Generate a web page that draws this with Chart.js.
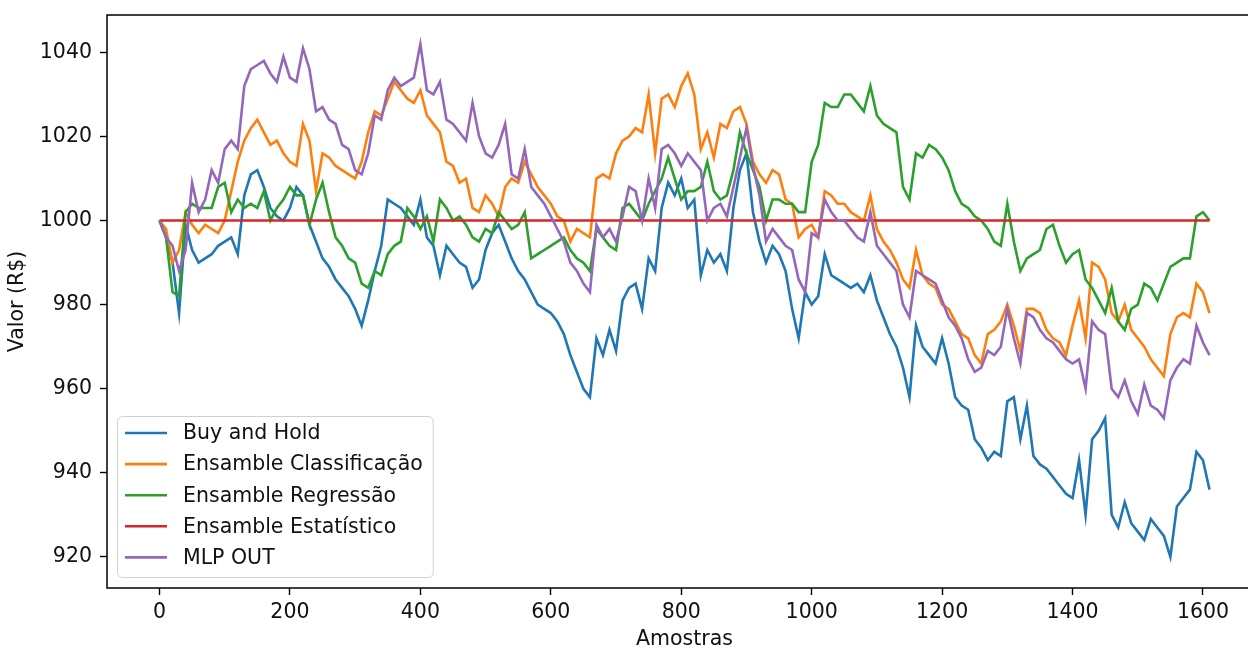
<!DOCTYPE html>
<html>
<head>
<meta charset="utf-8">
<script src="https://cdn.jsdelivr.net/npm/chart.js@4"></script>
<style>
  html, body { margin: 0; padding: 0; background: #fff; overflow: hidden; }
  #wrap { width: 1280px; height: 648px; }
</style>
</head>
<body>
<div id="wrap"><canvas id="valorChart" width="1280" height="648"></canvas></div>
<script>
// Portfolio value per sample, one reading every 10 samples (0 .. 1610)
const SAMPLE_STEP = 10;

const buyHold = [
  1000, 996, 990, 978, 999, 993, 990, 991, 992, 994,
  995, 996, 992, 1006, 1011, 1012, 1008, 1003, 1001, 1000,
  1003, 1008, 1006, 999, 995, 991, 989, 986, 984, 982,
  979, 975, 981, 988, 994, 1005, 1004, 1003, 1001, 999,
  1005, 996, 994, 987, 994, 992, 990, 989, 984, 986,
  993, 997, 999, 995, 991, 988, 986, 983, 980, 979,
  978, 976, 973, 968, 964, 960, 958, 972, 968, 974,
  969, 981, 984, 985, 979, 991, 988, 1003, 1009, 1006,
  1010, 1003, 1005, 987, 993, 990, 992, 988, 1003, 1012,
  1016, 1002, 995, 990, 994, 992, 988, 979, 972, 983,
  980, 982, 992, 987, 986, 985, 984, 985, 983, 987,
  981, 977, 973, 970, 965, 958, 975, 970, 968, 966,
  972, 966, 958, 956, 955, 948, 946, 943, 945, 944,
  957, 958, 948, 956, 944, 942, 941, 939, 937, 935,
  934, 943, 930, 948, 950, 953, 930, 927, 933, 928,
  926, 924, 929, 927, 925, 920, 932, 934, 936, 945,
  943, 936
];

const ensClassificacao = [
  1000, 998, 990, 993, 1002, 999, 997, 999, 998, 997,
  1000, 1007, 1014, 1019, 1022, 1024, 1021, 1018, 1019, 1016,
  1014, 1013, 1023, 1019, 1007, 1016, 1015, 1013, 1012, 1011,
  1010, 1014, 1021, 1026, 1025, 1029, 1033, 1031, 1029, 1028,
  1031, 1025, 1023, 1021, 1014, 1013, 1009, 1010, 1003, 1002,
  1006, 1004, 1001, 1008, 1010, 1009, 1014, 1011, 1008, 1006,
  1004, 1001, 1000, 995, 998, 997, 996, 1010, 1011, 1010,
  1016, 1019, 1020, 1022, 1021, 1030, 1016, 1029, 1030, 1027,
  1032, 1035, 1030, 1017, 1021, 1015, 1023, 1022, 1026, 1027,
  1023, 1014, 1011, 1009, 1012, 1011, 1005, 1004, 996, 998,
  999, 996, 1007, 1006, 1004, 1004, 1002, 1001, 1000, 1006,
  998, 995, 993, 990, 986, 984, 993, 987, 985, 984,
  980, 979, 976, 973, 972, 968, 966, 973, 974, 976,
  980, 975, 969, 979, 979, 978, 974, 972, 971, 968,
  975, 981, 972, 990, 989, 986, 978, 976, 980, 974,
  972, 970, 967, 965, 963, 973, 977, 978, 977, 985,
  983, 978
];

const ensRegressao = [
  1000, 996, 983, 982, 1002, 1004, 1003, 1003, 1003, 1008,
  1009, 1002, 1005, 1003, 1004, 1003, 1007, 1000, 1003, 1005,
  1008, 1006, 1006, 999, 1005, 1009, 1002, 996, 994, 991,
  990, 985, 984, 988, 987, 992, 994, 995, 1003, 1001,
  998, 1001, 995, 1005, 1003, 1000, 1001, 999, 996, 995,
  998, 997, 1002, 1000, 998, 999, 1002, 991, 992, 993,
  994, 995, 996, 993, 991, 990, 988, 998, 996, 994,
  993, 1003, 1004, 1002, 1000, 1004, 1007, 1010, 1015, 1010,
  1005, 1007, 1007, 1008, 1014, 1007, 1005, 1006, 1012, 1021,
  1016, 1012, 1008, 1000, 1005, 1005, 1004, 1004, 1002, 1002,
  1014, 1018, 1028, 1027, 1027, 1030, 1030, 1028, 1026, 1032,
  1025, 1023, 1022, 1021, 1008, 1005, 1016, 1015, 1018, 1017,
  1015, 1012, 1007, 1004, 1003, 1001, 1000, 998, 995, 994,
  1004, 995, 988, 991, 992, 993, 998, 999, 994, 990,
  992, 993, 986, 984, 981, 978, 984, 976, 974, 979,
  980, 985, 984, 981, 985, 989, 990, 991, 991, 1001,
  1002, 1000
];

const mlpOut = [
  1000, 996, 994, 988, 993, 1009, 1002, 1005, 1012, 1009,
  1017, 1019, 1017, 1032, 1036, 1037, 1038, 1035, 1033, 1039,
  1034, 1033, 1041, 1036, 1026, 1027, 1024, 1023, 1018, 1017,
  1012, 1011, 1016, 1025, 1024, 1031, 1034, 1032, 1033, 1034,
  1042, 1031, 1030, 1033, 1024, 1023, 1021, 1019, 1028, 1020,
  1016, 1015, 1018, 1023, 1011, 1010, 1017, 1008, 1006, 1004,
  1001, 998, 995, 990, 988, 985, 983, 999, 996, 998,
  995, 1001, 1008, 1007, 1000, 1010, 1003, 1017, 1018, 1016,
  1013, 1016, 1014, 1012, 1000, 1003, 1004, 1001, 1008, 1015,
  1022, 1013, 1006, 995, 998, 996, 994, 993, 986, 983,
  997, 996, 1005, 1002, 1000, 1000, 998, 996, 995, 1002,
  994, 992, 990, 988, 980, 977, 988, 987, 986, 985,
  981, 977, 975, 972, 967, 964, 965, 969, 968, 970,
  979, 972, 966, 978, 977, 974, 972, 971, 969, 967,
  966, 967, 960, 976, 974, 973, 960, 958, 962, 957,
  954, 961, 956, 955, 953, 962, 965, 967, 966, 975,
  971, 968
];

// the statistical ensemble never trades: flat from first to last sample
const ensEstatisticoSamples = [0, 1610];
const ensEstatistico = [1000, 1000];

const xTicks = [0, 200, 400, 600, 800, 1000, 1200, 1400, 1600];
const yTicks = [920, 940, 960, 980, 1000, 1020, 1040];

const seriesNames  = ['Buy and Hold', 'Ensamble Classificação', 'Ensamble Regressão', 'Ensamble Estatístico', 'MLP OUT'];
const seriesColors = ['#1f77b4', '#ff7f0e', '#2ca02c', '#d62728', '#9467bd'];

const FONT = "'DejaVu Sans', sans-serif";
const FONT_SIZE = 20.5;

const samples = buyHold.map((_, i) => i * SAMPLE_STEP);
const toPoints = (xs, ys) => ys.map((y, i) => ({ x: xs[i], y }));

const seriesData = [
  toPoints(samples, buyHold),
  toPoints(samples, ensClassificacao),
  toPoints(samples, ensRegressao),
  toPoints(ensEstatisticoSamples, ensEstatistico),
  toPoints(samples, mlpOut)
];

const datasets = seriesData.map((pts, i) => ({
  label: seriesNames[i],
  data: pts,
  borderColor: seriesColors[i],
  backgroundColor: seriesColors[i],
  borderWidth: 2.6,
  pointRadius: 0,
  fill: false,
  order: seriesNames.length - 1 - i   // later series sit on top
}));

// axes frame + legend box in the lower left corner of the plot
const frameAndLegend = {
  id: 'frameAndLegend',
  afterDatasetsDraw(chart) {
    const { ctx, chartArea: a } = chart;
    ctx.save();
    ctx.strokeStyle = '#000';
    ctx.lineWidth = 1.5;
    ctx.strokeRect(a.left, a.top, a.right - a.left, a.bottom - a.top);

    ctx.font = `${FONT_SIZE}px ${FONT}`;
    const textW = Math.max(...seriesNames.map(n => ctx.measureText(n).width));
    const boxL = a.left + 10;
    const boxB = a.bottom - 11;
    const boxH = 161;
    const boxW = 66 + textW + 10;
    const boxT = boxB - boxH;

    ctx.beginPath();
    ctx.roundRect(boxL + 0.5, boxT + 0.5, boxW, boxH, 5);
    ctx.fillStyle = 'rgba(255,255,255,0.8)';
    ctx.fill();
    ctx.strokeStyle = '#d0d0d0';
    ctx.lineWidth = 1;
    ctx.stroke();

    ctx.textBaseline = 'middle';
    ctx.textAlign = 'left';
    seriesNames.forEach((name, i) => {
      const y = boxT + 17 + i * 31.1;
      ctx.beginPath();
      ctx.moveTo(boxL + 8, y);
      ctx.lineTo(boxL + 50, y);
      ctx.strokeStyle = seriesColors[i];
      ctx.lineWidth = 2.6;
      ctx.stroke();
      ctx.fillStyle = '#111';
      ctx.fillText(name, boxL + 66, y + 1);
    });
    ctx.restore();
  }
};

const tickFont = { family: FONT, size: FONT_SIZE };

new Chart(document.getElementById('valorChart'), {
  type: 'line',
  data: { datasets },
  options: {
    responsive: false,
    animation: false,
    events: [],
    layout: { padding: { top: 15, right: 18, left: 0, bottom: 0 } },
    plugins: {
      legend: { display: false },
      tooltip: { enabled: false }
    },
    elements: { line: { tension: 0 } },
    scales: {
      x: {
        type: 'linear',
        min: -80.5,
        max: 1690.5,
        afterFit(scale) {
          scale.height = 60;
          scale.paddingLeft = scale.paddingRight = 0;
        },
        afterBuildTicks(scale) { scale.ticks = xTicks.map(v => ({ value: v })); },
        grid: { drawOnChartArea: false, tickLength: 7, tickColor: '#000', tickWidth: 1.4 },
        border: { display: false },
        ticks: {
          font: tickFont,
          color: '#111',
          padding: 5,
          maxRotation: 0,
          autoSkip: false,
          callback: v => String(v)
        },
        title: {
          display: true,
          text: 'Amostras',
          color: '#111',
          font: { family: FONT, size: FONT_SIZE, lineHeight: 0.8 },
          padding: { top: 0, bottom: 0 }
        }
      },
      y: {
        type: 'linear',
        min: 912.6,
        max: 1048.9,
        afterFit(scale) {
          scale.width = 107;
          scale.paddingTop = scale.paddingBottom = 0;
        },
        afterBuildTicks(scale) { scale.ticks = yTicks.map(v => ({ value: v })); },
        grid: { drawOnChartArea: false, tickLength: 7, tickColor: '#000', tickWidth: 1.4 },
        border: { display: false },
        ticks: {
          font: tickFont,
          color: '#111',
          padding: 8,
          autoSkip: false,
          callback: v => String(v)
        },
        title: {
          display: true,
          text: 'Valor (R$)',
          color: '#111',
          font: { family: FONT, size: FONT_SIZE, lineHeight: 0.8 },
          padding: { top: 9, bottom: 0 }
        }
      }
    }
  },
  plugins: [frameAndLegend]
});
</script>
</body>
</html>
